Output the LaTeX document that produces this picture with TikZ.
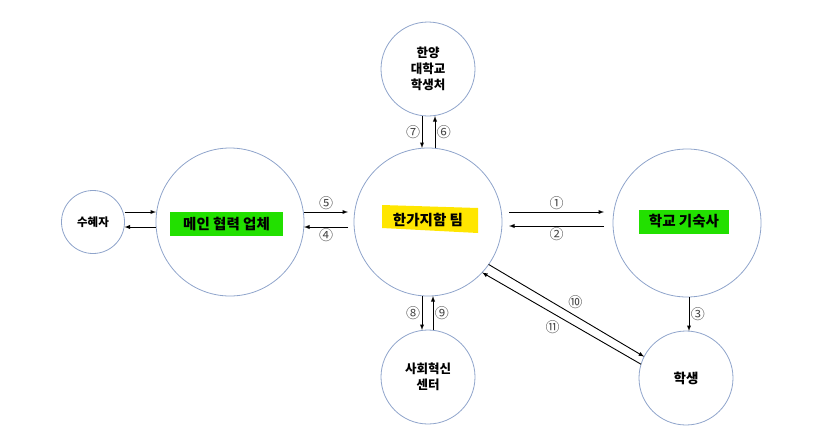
\documentclass[tikz,border=0pt]{standalone}
\usepackage{fontspec}
\setmainfont{Noto Sans CJK KR}
\usetikzlibrary{arrows}
\definecolor{ringblue}{RGB}{143,164,203}
\definecolor{hlgreen}{RGB}{34,224,0}
\definecolor{hlyellow}{RGB}{255,230,0}
\definecolor{numgray}{RGB}{70,70,70}
\begin{document}
\begin{tikzpicture}[
		x=1pt, y=-1pt,
		ring/.style={circle,draw=ringblue,line width=0.8pt,inner sep=0pt,outer sep=0pt,
			align=center,font=\bfseries\fontsize{12.5}{16}\selectfont},
		flow/.style={->,>=latex,line width=0.9pt},
		num/.style={font=\fontsize{14}{14}\selectfont,text=numgray,inner sep=1.5pt},
		hilite/.style={fill=hlgreen,inner sep=0pt,minimum height=24pt,font=\bfseries\fontsize{14.5}{16}\selectfont}
	]
		\useasboundingbox (0,0) rectangle (832,445);
		% circles
		\node[ring,minimum size=63pt,font=\bfseries\fontsize{11.5}{13}\selectfont] (recip) at (93,222) {수혜자};
		\node[ring,minimum size=148pt] (main) at (230,222) {};
		\node[ring,minimum size=148pt] (team) at (428,222) {};
		\node[ring,minimum size=148pt] (dorm) at (687,223) {};
		\node[ring,minimum size=94pt] (hanyang) at (428,69) {한양\\대학교\\학생처};
		\node[ring,minimum size=94pt] (center) at (428,377) {사회혁신\\센터};
		\node[ring,minimum size=94pt,font=\bfseries\fontsize{13.5}{16}\selectfont] (student) at (686,378) {학생};
		% highlighted names
		\node[hilite,minimum width=113pt] (mainname) at (226.5,224) {메인 협력 업체};
		\fill[hlyellow] (382,205) -- (478,208) -- (478,233) -- (382,228) -- cycle;
		\node[font=\bfseries\fontsize{14.5}{16}\selectfont] (teamname) at (428,220) {한가지함 팀};
		\node[hilite,minimum width=90pt] (dormname) at (684,221.5) {학교 기숙사};
		% flows
		\draw[flow] ([yshift=10pt]recip.east) -- ([yshift=10pt]main.west);
		\draw[flow] ([yshift=-5pt]main.west) -- ([yshift=-5pt]recip.east);
		\draw[flow] ([yshift=10pt]main.east) -- node[num,above] {⑤} ([xshift=-6pt,yshift=10pt]team.west);
		\draw[flow] ([xshift=-6pt,yshift=-5pt]team.west) -- node[num,below] {④} ([yshift=-5pt]main.east);
		\draw[flow] ([xshift=7pt,yshift=10pt]team.east) -- node[num,above] {①} ([xshift=-9pt,yshift=11pt]dorm.west);
		\draw[flow] ([xshift=-9pt,yshift=-3pt]dorm.west) -- node[num,below] {②} ([xshift=7pt,yshift=-4pt]team.east);
		\draw[flow] ([xshift=2pt]dorm.south) -- node[num,right] {③} ([xshift=3pt]student.north);
		\draw[flow] ([xshift=-6pt]hanyang.south) -- node[num,left] {⑦} ([xshift=-6pt]team.north);
		\draw[flow] ([xshift=7pt]team.north) -- node[num,right] {⑥} ([xshift=7pt]hanyang.south);
		\draw[flow] ([xshift=-6pt]team.south) -- node[num,left] {⑧} ([xshift=-6pt]center.north);
		\draw[flow] ([xshift=5pt]center.north) -- node[num,right] {⑨} ([xshift=5pt]team.south);
		\draw[flow] (team.-35) -- node[num,above right] {⑩} (student.153);
		\draw[flow] (student.163) -- node[num,below left] {⑪} (team.-43);
	\end{tikzpicture}
\end{document}
